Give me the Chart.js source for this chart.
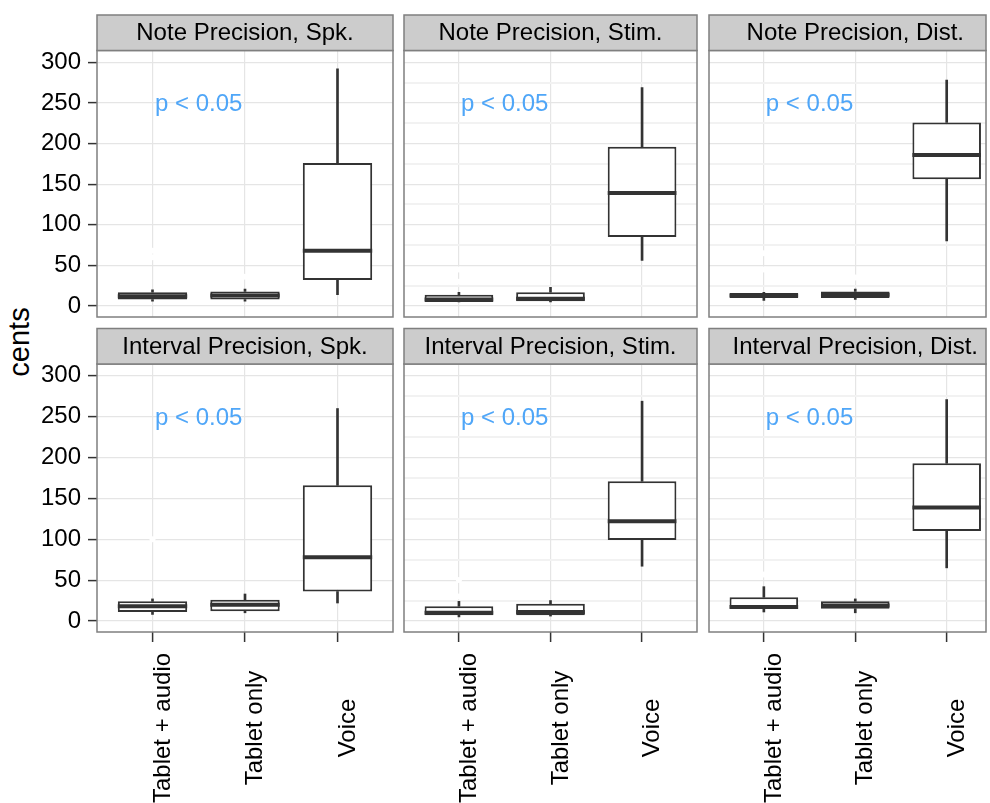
<!DOCTYPE html>
<html>
<head>
<meta charset="utf-8">
<script src="https://cdn.jsdelivr.net/npm/chart.js@4.4.1/dist/chart.umd.min.js"></script>
<style>
html, body { margin: 0; padding: 0; background: #fff; overflow: hidden; width: 990px; height: 803px; }
canvas { position: absolute; }
#ylab { position: absolute; left: 19px; top: 342px; transform: translate(-50%, -50%) rotate(-90deg);
        font: 29px "Liberation Sans", Arial, sans-serif; color: #000; white-space: nowrap; }
</style>
</head>
<body>
<div id="ylab">cents</div>
<script>
// categories and facet titles
const groups = ['Tablet + audio', 'Tablet only', 'Voice'];
const panelTitles = [
    'Note Precision, Spk.', 'Note Precision, Stim.', 'Note Precision, Dist.',
    'Interval Precision, Spk.', 'Interval Precision, Stim.', 'Interval Precision, Dist.'
];

// box statistics per panel: [Tablet + audio, Tablet only, Voice]
const whiskerLow  = [[6, 6, 14],   [5, 5, 56],    [7, 8, 80],    [8, 10, 22],   [5, 6, 67],    [11, 10, 65]];
const lowerQ      = [[8, 8, 32],   [5, 6, 85],    [10, 10, 156], [11, 12, 36],  [7, 7, 99],    [15, 15, 110]];
const medians     = [[12, 13, 68], [8, 9, 139],   [13, 14, 186], [18, 20, 78],  [10, 11, 122], [17, 19, 139]];
const upperQ      = [[17, 18, 176],[14, 17, 196], [16, 18, 226], [24, 26, 166], [18, 21, 171], [29, 24, 193]];
const whiskerHigh = [[20, 21, 292],[17, 23, 269], [17, 21, 278], [27, 33, 260], [24, 25, 269], [42, 27, 271]];
// outliers (drawn in white in the original)
const outliers = [
    [[60, 68], [36], []], [[30, 45], [], []], [[45, 65], [35], []],
    [[100], [], []],      [[30, 50], [], []], [[57], [], []]
];

const pLabel = 'p < 0.05';
const pLabelPos = [1.5, 248];
const yTicksMajor = 50;

const FONT = '"Liberation Sans", Arial, sans-serif';
Chart.defaults.font.family = FONT;

const cols = [
    { left: 0,   width: 397, pl: 0, yw: 97, xmax: 3.6 },
    { left: 400, width: 301, pl: 3, yw: 0,  xmax: 3.6 },
    { left: 705, width: 285, pl: 3, yw: 0,  xmax: 3.43 }
];
const rows = [
    { top: 0,   height: 321, pt: 50.5, pb: 2.5 },
    { top: 322, height: 481, pt: 42,   pb: 171 }
];
const stripH = 35.5;

const facetPlugin = {
    id: 'facet',
    afterDatasetsDraw(chart, args, opts) {
        const { ctx, scales: { x, y } } = chart;
        ctx.save();
        ctx.fillStyle = '#4FA6F8';
        ctx.font = '24px ' + FONT;
        ctx.textAlign = 'center';
        ctx.textBaseline = 'middle';
        ctx.fillText(pLabel, x.getPixelForValue(pLabelPos[0]), y.getPixelForValue(pLabelPos[1]));
        ctx.restore();
    },
    afterDraw(chart, args, opts) {
        const { ctx, chartArea: a, scales: { x } } = chart;
        ctx.save();
        ctx.strokeStyle = '#7F7F7F';
        ctx.lineWidth = 1.5;
        ctx.strokeRect(a.left, a.top, a.width, a.height);
        ctx.fillStyle = '#CCCCCC';
        ctx.fillRect(a.left, a.top - stripH, a.width, stripH);
        ctx.strokeRect(a.left, a.top - stripH, a.width, stripH);
        ctx.fillStyle = '#000';
        ctx.font = '24px ' + FONT;
        ctx.textAlign = 'center';
        ctx.textBaseline = 'middle';
        // strip title centred on the middle category, like the original full-width panel
        ctx.fillText(opts.title, x.getPixelForValue(2), a.top - stripH / 2 + 1);
        if (opts.showX) {
            ctx.textBaseline = 'alphabetic';
            groups.forEach((g, i) => {
                ctx.save();
                ctx.translate(x.getPixelForValue(i + 1), a.bottom + 96);
                ctx.rotate(-Math.PI / 2);
                ctx.fillText(g, 0, 17);
                ctx.restore();
            });
        }
        ctx.restore();
    }
};

function halfBox(chart) {
    const x = chart.scales.x;
    if (!x) return 34.7;
    return Math.abs(x.getPixelForValue(1.375) - x.getPixelForValue(1));
}

function isMajor(ctx) {
    return ctx.tick && ctx.tick.value % yTicksMajor === 0;
}

function makePanel(p) {
    const r = Math.floor(p / 3), c = p % 3;
    const canvas = document.createElement('canvas');
    canvas.width = cols[c].width;
    canvas.height = rows[r].height;
    canvas.style.left = cols[c].left + 'px';
    canvas.style.top = rows[r].top + 'px';
    document.body.appendChild(canvas);

    const xs = [1, 2, 3];
    const outPts = [];
    outliers[p].forEach((arr, i) => arr.forEach(v => outPts.push({ x: i + 1, y: v })));

    new Chart(canvas, {
        type: 'bar',
        data: {
            datasets: [
                {
                    type: 'line', label: 'median', order: 0, showLine: false,
                    data: xs.map((x, i) => ({ x, y: medians[p][i] })),
                    pointStyle: 'line',
                    pointRadius: ctx => halfBox(ctx.chart),
                    pointBorderWidth: 4,
                    pointBorderColor: '#333333'
                },
                {
                    type: 'line', label: 'outliers', order: 1, showLine: false,
                    data: outPts,
                    pointRadius: 3, pointBorderWidth: 0, pointBackgroundColor: '#ffffff'
                },
                {
                    label: 'box', order: 2, grouped: false,
                    data: xs.map((x, i) => ({ x, y: [lowerQ[p][i], upperQ[p][i]] })),
                    backgroundColor: '#ffffff', borderColor: '#333333', borderWidth: 2,
                    borderSkipped: false, barPercentage: 0.75, categoryPercentage: 1
                },
                {
                    label: 'upper', order: 3, grouped: false,
                    data: xs.map((x, i) => ({ x, y: [upperQ[p][i], whiskerHigh[p][i]] })),
                    backgroundColor: '#333333', borderWidth: 0, barThickness: 2
                },
                {
                    label: 'lower', order: 4, grouped: false,
                    data: xs.map((x, i) => ({ x, y: [whiskerLow[p][i], lowerQ[p][i]] })),
                    backgroundColor: '#333333', borderWidth: 0, barThickness: 2
                }
            ]
        },
        options: {
            responsive: false,
            animation: false,
            events: [],
            layout: { padding: { left: cols[c].pl, right: 2, top: rows[r].pt, bottom: rows[r].pb } },
            plugins: {
                legend: { display: false },
                tooltip: { enabled: false },
                facet: { title: panelTitles[p], showX: r === 1 }
            },
            scales: {
                x: {
                    type: 'linear', min: 0.4, max: cols[c].xmax, offset: false,
                    afterFit: s => { s.height = 0; s.paddingLeft = 0; s.paddingRight = 0; },
                    ticks: { display: false, stepSize: 1, includeBounds: false },
                    grid: { offset: false, color: '#E5E5E5', lineWidth: 1.2, drawTicks: r === 1, tickLength: 10, tickColor: '#333333', tickWidth: 1.5 },
                    border: { display: false }
                },
                y: {
                    min: -13.5, max: 314.5,
                    afterFit: s => { s.width = cols[c].yw; s.paddingTop = 0; s.paddingBottom = 0; },
                    ticks: {
                        display: c === 0, stepSize: 25, includeBounds: false, padding: 7,
                        color: '#000', font: { size: 24 },
                        callback: v => (v % yTicksMajor === 0 ? v : '')
                    },
                    grid: {
                        color: ctx => (isMajor(ctx) ? '#E5E5E5' : '#F2F2F2'),
                        lineWidth: ctx => (isMajor(ctx) ? 1.2 : 2),
                        drawTicks: c === 0, tickLength: 9, tickWidth: 1.5,
                        tickColor: ctx => (isMajor(ctx) ? '#333333' : 'rgba(0,0,0,0)')
                    },
                    border: { display: false }
                }
            }
        },
        plugins: [facetPlugin]
    });
}

for (let p = 0; p < 6; p++) makePanel(p);
</script>
</body>
</html>
